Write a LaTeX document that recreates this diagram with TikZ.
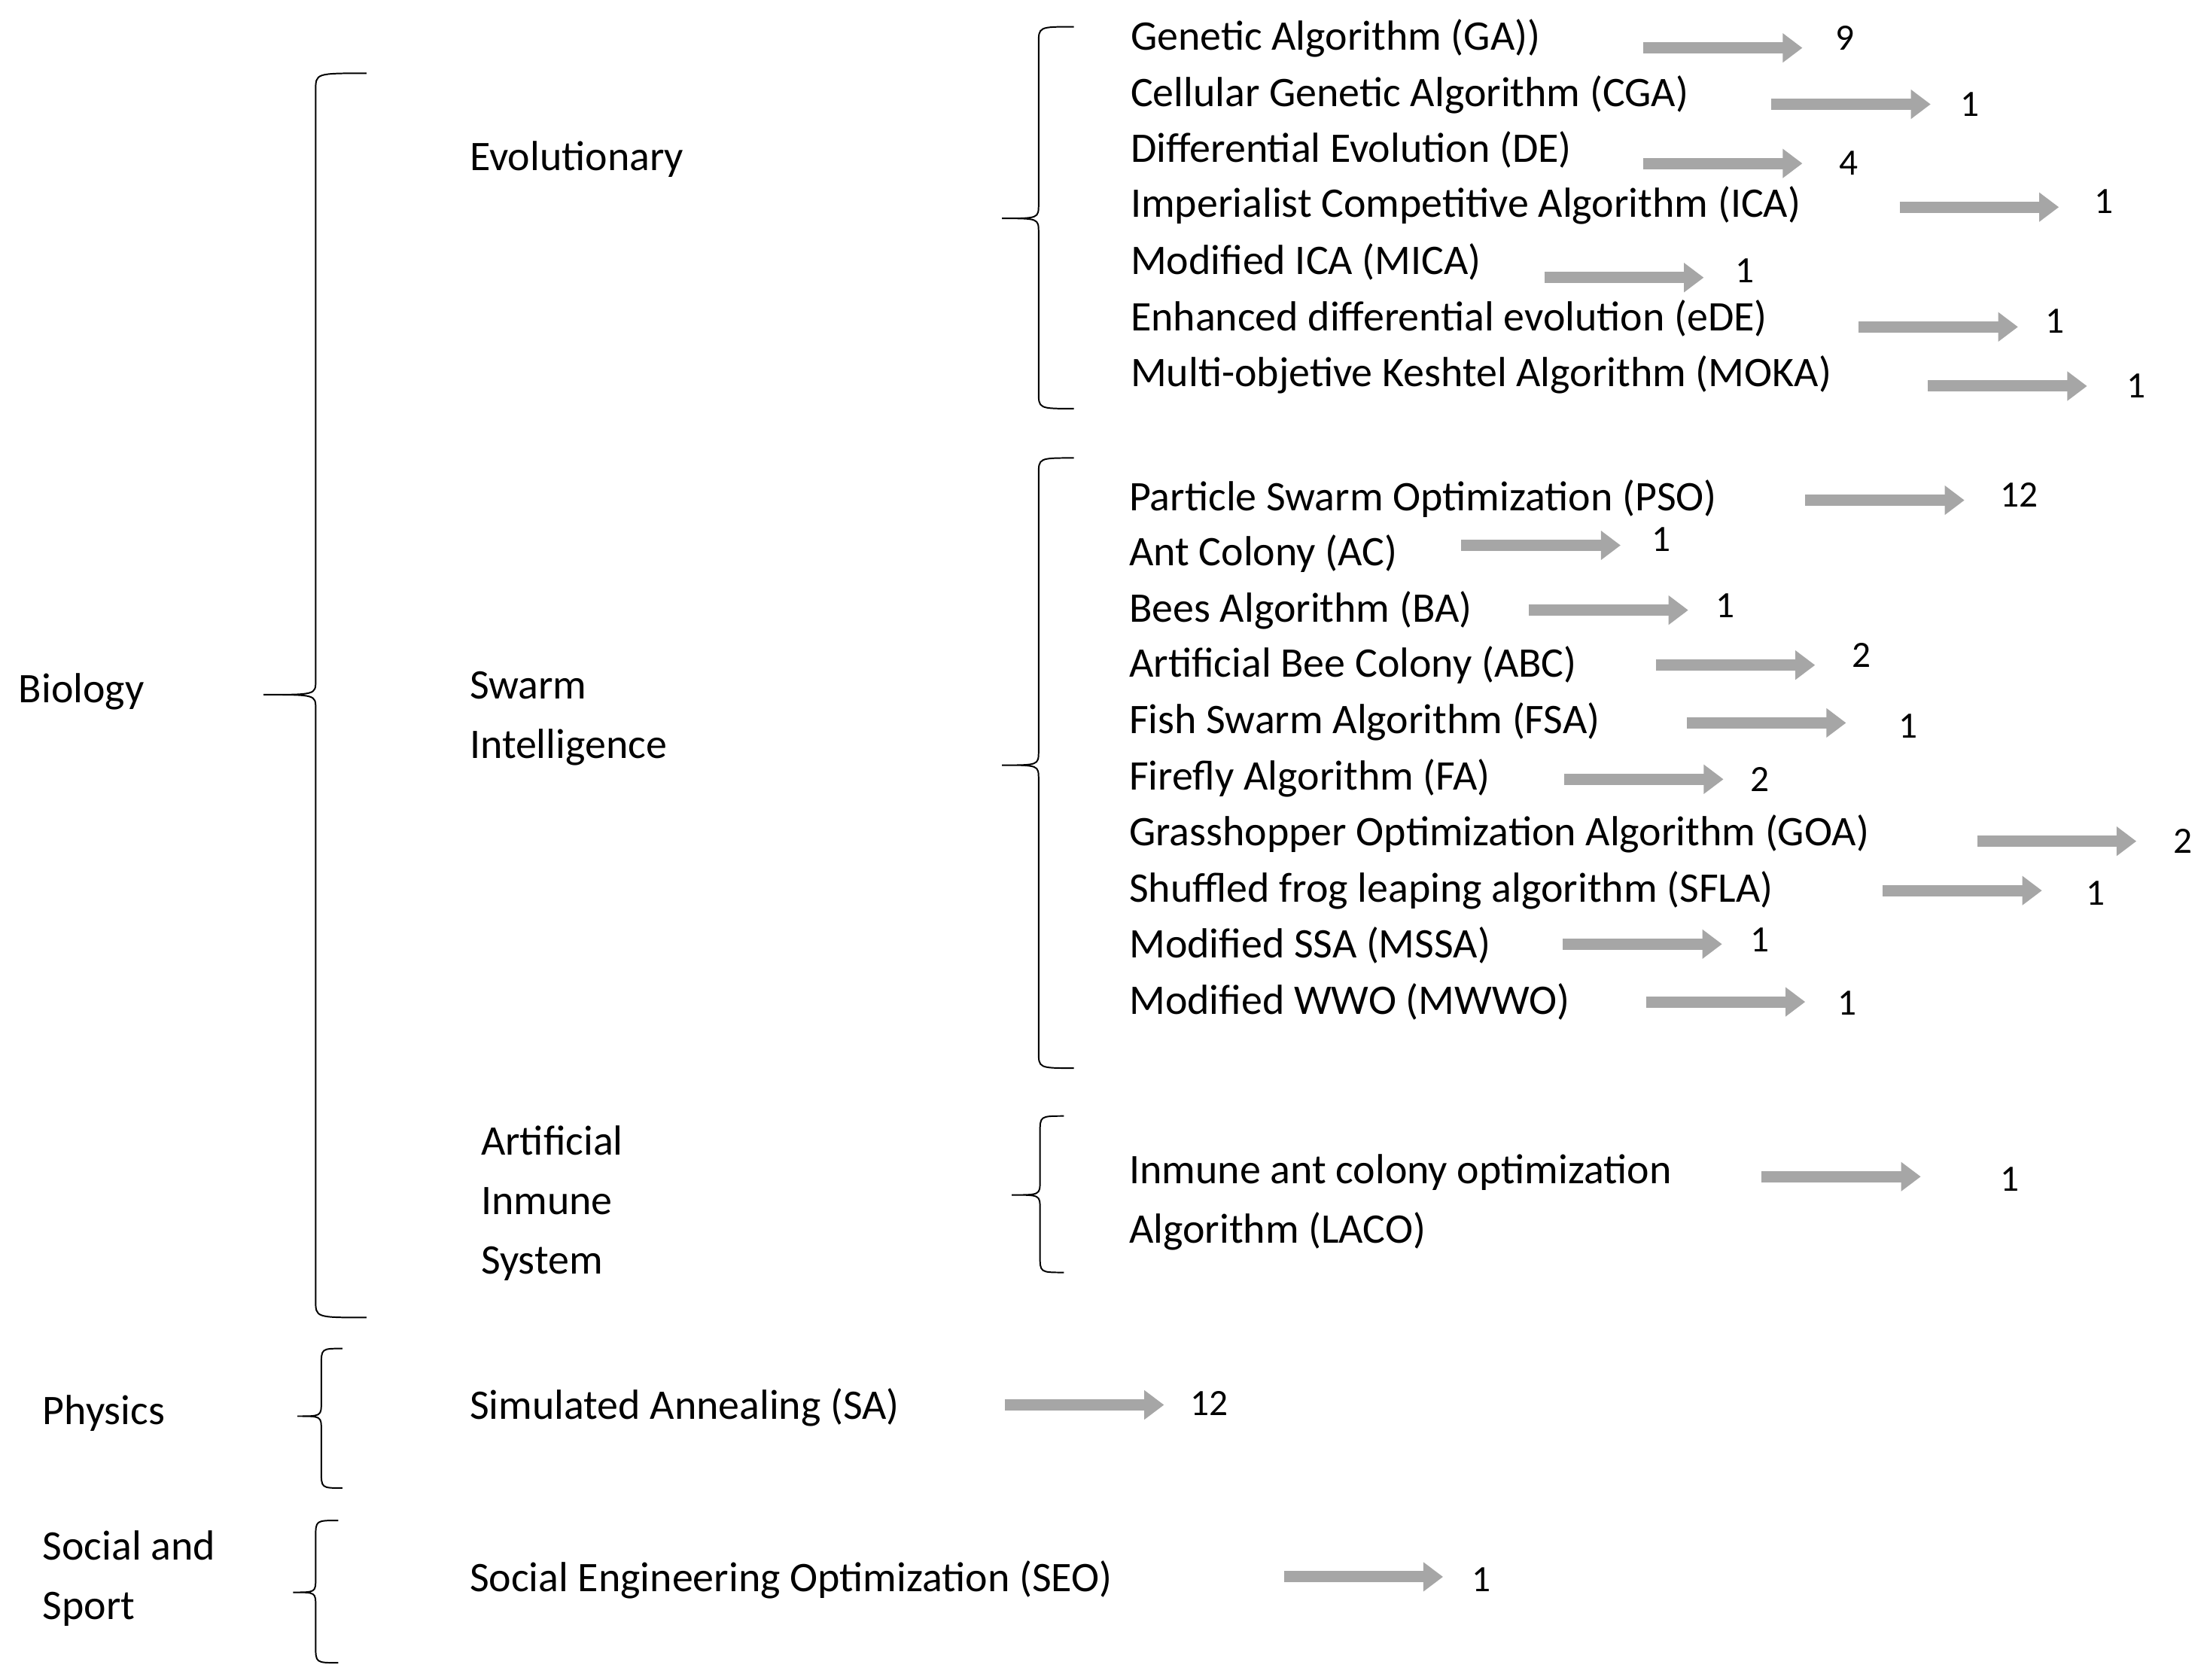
\documentclass[tikz,border=0pt]{standalone}
\usepackage{fontspec}
\setmainfont{Carlito}
\usetikzlibrary{arrows.meta}
\definecolor{arr}{HTML}{A6A6A6}
\tikzset{x=0.02cm,y=-0.02cm,
 lbl/.style={anchor=west,inner sep=0pt,font=\fontsize{17}{24}\selectfont,align=left},
 num/.style={anchor=center,inner sep=0pt,font=\fontsize{15}{18}\selectfont},
 garrow/.style={draw=arr,line width=0.16cm,-{Triangle[length=0.28cm,width=0.4cm]}},
 br/.style={draw=black,line width=0.6pt}}
\newcommand\mybrace[6]{% tip line end ytop ymid ybot
 \draw[br] (#3,#4) .. controls (#2,#4) .. (#2,#4+12) -- (#2,#5-10) .. controls (#2,#5) .. (#1,#5)
   .. controls (#2,#5) .. (#2,#5+10) -- (#2,#6-12) .. controls (#2,#6) .. (#3,#6);}
\newcommand\myitem[9]{\node[lbl] (#1) at (#2,#3) {#4};
 \coordinate (#1a) at (#5,#7); \coordinate (#1b) at (#6,#7);
 \draw[garrow] (#1a) -- (#1b);
 \node[num] (#1n) at (#8) {#9};}
\begin{document}
\begin{tikzpicture}
\useasboundingbox (0,0) rectangle (1564,1192);
\mybrace{187}{224}{260}{52}{493}{935}
\mybrace{711}{737}{762}{19}{155}{290}
\mybrace{711}{737}{762}{325}{543}{758}
\mybrace{718}{738}{755}{792}{848}{903}
\mybrace{211}{228}{243}{957}{1005}{1056}
\mybrace{208}{224}{240}{1079}{1130}{1180}
\node[lbl] (bio) at (13,491) {Biology};
\node[lbl] (evo) at (333,113) {Evolutionary};
\node[lbl] (swarm) at (333,510) {Swarm\\Intelligence};
\node[lbl] (ais) at (341,854) {Artificial\\Inmune\\System};
\node[lbl] (phy) at (30,1003) {Physics};
\node[lbl] (soc) at (30,1120) {Social and\\Sport};
\myitem{sa}{333}{999}{Simulated Annealing (SA)}{713}{826}{997}{858,996}{12}
\myitem{seo}{333}{1121}{Social Engineering Optimization (SEO)}{911}{1024}{1119}{1051,1121}{1}
\myitem{ga}{802}{27}{Genetic Algorithm (GA))}{1166}{1279}{34}{1309,27}{9}
\myitem{cga}{802}{67}{Cellular Genetic Algorithm (CGA)}{1257}{1370}{74}{1398,74}{1}
\myitem{de}{802}{106}{Differential Evolution (DE)}{1166}{1279}{116}{1312,116}{4}
\myitem{ica}{802}{146}{Imperialist Competitive Algorithm (ICA)}{1348}{1461}{147}{1493,143}{1}
\myitem{mica}{802}{186}{Modified ICA (MICA)}{1096}{1209}{197}{1238,192}{1}
\myitem{ede}{802}{226}{Enhanced differential evolution (eDE)}{1319}{1432}{232}{1458,228}{1}
\myitem{moka}{802}{266}{Multi-objetive Keshtel Algorithm (MOKA)}{1368}{1481}{274}{1516,274}{1}
\myitem{pso}{801}{354}{Particle Swarm Optimization (PSO)}{1281}{1394}{355}{1433,351}{12}
\myitem{ac}{801}{393}{Ant Colony (AC)}{1037}{1150}{387}{1179,383}{1}
\myitem{ba}{801}{433}{Bees Algorithm (BA)}{1085}{1198}{433}{1224,430}{1}
\myitem{abc}{801}{472}{Artificial Bee Colony (ABC)}{1175}{1288}{472}{1321,465}{2}
\myitem{fsa}{801}{512}{Fish Swarm Algorithm (FSA)}{1197}{1310}{513}{1354,515}{1}
\myitem{fa}{801}{552}{Firefly Algorithm (FA)}{1110}{1223}{553}{1249,553}{2}
\myitem{goa}{801}{592}{Grasshopper Optimization Algorithm (GOA)}{1403}{1516}{597}{1549,597}{2}
\myitem{sfla}{801}{632}{Shuffled frog leaping algorithm (SFLA)}{1336}{1449}{632}{1487,634}{1}
\myitem{mssa}{801}{671}{Modified SSA (MSSA)}{1109}{1222}{670}{1249,667}{1}
\myitem{mwwo}{801}{711}{Modified WWO (MWWO)}{1168}{1281}{711}{1311,712}{1}
\myitem{laco}{801}{853}{Inmune ant colony optimization\\Algorithm (LACO)}{1250}{1363}{835}{1426,837}{1}
\end{tikzpicture}
\end{document}
